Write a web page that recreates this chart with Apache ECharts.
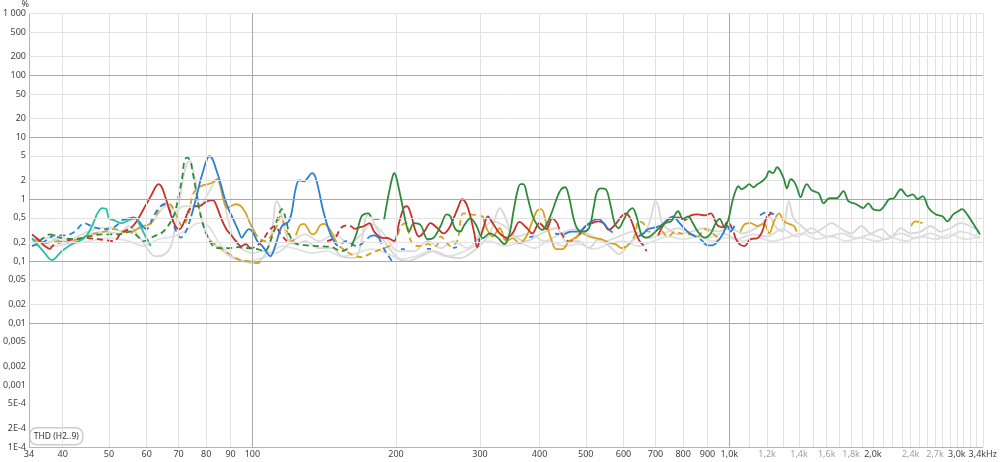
<!DOCTYPE html>
<html><head><meta charset="utf-8">
<script src="https://cdn.jsdelivr.net/npm/echarts@6/dist/echarts.min.js"></script>
<style>html,body{margin:0;padding:0;background:#fff}#c{width:1000px;height:462px}</style>
</head><body><div id="c"></div>
<script>
// ---- ticks / grid ----
const xTickValues = [34,40,50,60,70,80,90,100,200,300,400,500,600,700,800,900,1000,1200,1400,1600,1800,2000,2400,2700,3000,3400];
const xTickLabels = ['34','40','50','60','70','80','90','100','200','300','400','500','600','700','800','900','1,0k','1,2k','1,4k','1,6k','1,8k','2,0k','2,4k','2,7k','3,0k','3,4kHz'];
const xTickDim    = [0,0,0,0,0,0,0,0,0,0,0,0,0,0,0,0,0,1,1,1,1,0,1,1,0,0];
const xMinorGrid = [40,50,60,70,80,90,200,300,400,500,600,700,800,900,1100,1200,1300,1400,1500,1600,1700,1800,1900,2000,2100,2200,2300,2400,2500,2600,2700,2800,2900,3000,3100,3200,3300,3400];
const xMajorGrid = [100,1000];
const yTickValues = [1000,500,200,100,50,20,10,5,2,1,0.5,0.2,0.1,0.05,0.02,0.01,0.005,0.002,0.001,0.0005,0.0002,0.0001];
const yTickLabels = ['1 000','500','200','100','50','20','10','5','2','1','0,5','0,2','0,1','0,05','0,02','0,01','0,005','0,002','0,001','5E-4','2E-4','1E-4'];
const yMinorGrid = [1000,500,200,50,20,5,2,0.5,0.2,0.05,0.02,0.005,0.002,0.0005,0.0002];
const yMajorGrid = [100,10,1,0.1,0.01,0.001];

// ---- series data: [frequency Hz, THD %] ----
const tealSolid = [
 [[34.5,0.235],[36.4,0.145],[38,0.104],[39.8,0.145],[41.8,0.188],[44.4,0.235],[46.1,0.37],[47.3,0.59],[48.4,0.72],[49.4,0.69],[50,0.49],[51.2,0.46],[53.3,0.41],[55,0.46],[57,0.49],[57.8,0.41],[59.1,0.29],[61.2,0.175]]
];
const blueSolid = [
 [[53.3,0.46],[55,0.49],[56.4,0.51],[57.8,0.44],[59.1,0.35]],
 [[74.4,0.53],[76.2,1.04],[77.7,1.95],[78.8,2.83],[80,4.1],[81.1,4.94],[82.3,4.59],[83.9,3.05],[85.5,1.95],[87.2,1.12],[88.9,0.72],[91.1,0.48],[93.3,0.32],[95,0.24],[96.4,0.28],[98.3,0.33],[100,0.30],[102.4,0.21],[104.9,0.175],[107.4,0.135],[109,0.12],[111.6,0.175],[115.3,0.37],[119.2,0.44],[121.2,0.69],[122.9,1.35],[125.3,2.02],[128.3,1.95],[130.8,2.26],[133.3,2.63],[135.3,2.35],[137.9,1.35],[140,0.77],[142.7,0.44],[145.5,0.28],[148.3,0.21]],
 [[175.9,0.25],[180,0.26],[184.4,0.235]],
 [[450,0.27],[466,0.30],[484,0.30],[500,0.37],[515,0.44],[532,0.48],[545,0.41],[558,0.33],[569,0.29]],
 [[645,0.25],[660,0.28],[676,0.33],[699,0.35],[720,0.38],[744,0.48],[762,0.53],[781,0.44],[807,0.33],[831,0.27]],
 [[880,0.21],[901,0.18],[923,0.18],[945,0.21],[968,0.27],[991,0.37],[1006,0.30],[1025,0.37]]
];
const blueDashed = [
 [[34.5,0.175],[36.7,0.21],[38.5,0.26],[40.4,0.26],[42.4,0.30],[44.4,0.41],[46.6,0.35],[48.9,0.33],[51.2,0.35],[53.3,0.46]],
 [[59.1,0.35],[60,0.33],[62,0.53],[64.1,0.77],[65.6,0.83],[67.3,0.64],[68.9,0.33],[70.7,0.24],[72.5,0.30],[74.4,0.53]],
 [[148.3,0.21],[151,0.18],[157.4,0.21],[165.3,0.175],[175.9,0.25]],
 [[184.4,0.235],[188.9,0.156],[193.6,0.116],[197.3,0.093]],
 [[831,0.27],[859,0.24],[880,0.21]],
 [[1160,0.55],[1200,0.62],[1240,0.57]]
];
const blueSparse = [
 [[204.9,0.156],[260,0.162],[304,0.226],[363,0.226],[386,0.25],[419,0.28],[450,0.27]]
];
const redSolid = [
 [[34.5,0.27],[35.5,0.226],[36.7,0.175],[37.6,0.156]],
 [[55.6,0.34],[57.2,0.44],[59.1,0.69],[61.5,1.2],[62.6,1.56],[63.5,1.75],[64.4,1.62],[65.6,1.12],[67.3,0.59],[68.9,0.37],[70.3,0.33],[71.7,0.41],[73,0.59]],
 [[77.7,0.77],[79.2,0.86],[81.5,0.96],[82.7,0.96],[84.3,0.74],[86,0.49],[88.1,0.33],[90,0.27],[92.4,0.21],[94.6,0.175],[96.9,0.188],[98.3,0.168]],
 [[163.7,0.33],[167.7,0.35],[171.7,0.37],[175.9,0.41],[180,0.30],[186.2,0.24],[192.6,0.235],[198.2,0.21],[202.9,0.41],[207.8,0.74],[210.9,0.77],[215,0.57],[219.1,0.33],[223.3,0.25],[228.6,0.29],[236.4,0.41],[243.4,0.35],[251.7,0.28],[257.8,0.33],[263.8,0.48],[270,0.74],[275.3,1.0],[281.1,0.83],[286.4,0.53],[291.9,0.28],[296,0.168],[300,0.226],[305.7,0.37],[311.6,0.53],[319.1,0.41],[329.9,0.28],[341.1,0.24],[351,0.28],[363,0.43],[375.3,0.35],[386.3,0.28],[399.5,0.41],[413.2,0.33],[425.2,0.49],[435.6,0.41]],
 [[484,0.27],[500,0.37],[515,0.41],[532,0.44],[545,0.41],[558,0.32],[578,0.40],[594,0.53],[606,0.59],[620,0.49],[635,0.30],[648,0.21]],
 [[709,0.26],[727,0.38],[744,0.46],[762,0.49],[781,0.51],[807,0.46],[831,0.55],[859,0.57],[888,0.55],[914,0.59],[945,0.38],[977,0.35]],
 [[1030,0.235],[1050,0.188],[1075,0.175],[1107,0.226],[1145,0.235],[1172,0.30],[1189,0.44],[1200,0.53]]
];
const redDashed = [
 [[37.6,0.156],[38.5,0.188],[40.4,0.21],[42.4,0.226],[45,0.235],[47.7,0.226],[51.2,0.21],[53,0.28],[55.6,0.34]],
 [[73,0.59],[75,0.77],[77.7,0.77]],
 [[98.3,0.168],[99.3,0.162],[102.4,0.18],[105.9,0.24],[109,0.33],[111.6,0.37],[114.3,0.28],[118.1,0.21]],
 [[143.4,0.21],[149,0.24],[153.7,0.35],[158.9,0.38],[163.7,0.33]],
 [[435.6,0.41],[446,0.27],[461,0.21],[472,0.226],[484,0.27]],
 [[648,0.21],[660,0.18],[670,0.145]],
 [[977,0.35],[991,0.44],[1015,0.33],[1030,0.235]],
 [[1200,0.53],[1217,0.57],[1230,0.60]]
];
const goldSolid = [
 [[55.6,0.28],[57.2,0.33],[59.1,0.37],[61.2,0.40]],
 [[77,1.56],[78.8,1.68],[80.8,1.75],[82.7,1.88],[84.3,2.1],[85.5,1.75],[86.8,1.04],[88.5,0.72],[90,0.77],[92.4,0.83],[94.6,0.77],[96.9,0.59],[98.8,0.41],[101,0.30]],
 [[124.1,0.30],[125.9,0.38],[128.3,0.40],[130.8,0.33],[133.3,0.27],[135.9,0.29],[138.6,0.38],[141.3,0.40],[144.8,0.34],[148.3,0.24]],
 [[304.3,0.53],[310.2,0.33],[319.1,0.25],[329.9,0.34],[341.1,0.21],[351,0.235],[363,0.195],[375.3,0.25],[386.3,0.44],[395.7,0.66],[403.4,0.69],[413.2,0.41],[423.2,0.226],[433.5,0.156],[446.1,0.156],[461.3,0.21],[477,0.24],[491,0.28],[507.6,0.25],[525,0.235],[540,0.226],[558.5,0.20],[577.6,0.188],[594.4,0.162],[609,0.175]],
 [[1055,0.30],[1080,0.40],[1107,0.41],[1145,0.37],[1183,0.40],[1212,0.28],[1241,0.44],[1271,0.59],[1302,0.44],[1333,0.40],[1365,0.37],[1385,0.30]],
 [[2401,0.37],[2459,0.44],[2543,0.41]]
];
const goldDashed = [
 [[35,0.226],[36.7,0.195],[39.1,0.21],[41,0.20],[42.8,0.226],[45.9,0.27],[48.9,0.30],[51.2,0.33],[53.8,0.30],[55.6,0.28]],
 [[61.2,0.40],[62.6,0.53],[64.1,0.72],[65.6,0.86],[67.3,0.83],[68.9,0.59],[71.3,0.37],[73.4,0.55],[75,1.2],[77,1.56]],
 [[81.5,0.21],[84.7,0.175],[88.9,0.135],[93.3,0.108],[97.8,0.10],[101.4,0.093],[104,0.096]],
 [[101,0.30],[102.4,0.25],[106.4,0.21],[110,0.27],[112.7,0.38],[114.3,0.53],[117,0.37],[121.2,0.21],[124.1,0.30]],
 [[148.3,0.24],[152.2,0.175],[157.4,0.145],[162.5,0.125],[169.3,0.116],[177.5,0.135],[186.2,0.156],[193.6,0.175],[200,0.226],[204.9,0.37],[209.9,0.41],[215,0.21],[223.3,0.175],[233,0.188],[242.3,0.175],[248.1,0.25],[254,0.21],[260,0.175],[268.7,0.21],[276.6,0.59],[286.4,0.57],[295,0.55],[304.3,0.53]],
 [[609,0.175],[623.5,0.21],[635.5,0.28],[644.7,0.44],[660,0.41],[676,0.30],[699,0.30],[709.5,0.34],[744,0.25],[769.6,0.30],[792,0.28],[831,0.27],[859,0.25],[888,0.33],[923,0.28],[954,0.226]]
];
const greenSolid = [
 [[161.4,0.175],[165.3,0.28],[169.3,0.53],[173.3,0.59]],
 [[188.9,0.48],[193.6,1.35],[196.3,2.18],[198.2,2.63],[200,2.35],[202.9,1.45],[206,0.83],[209.9,0.41],[212.9,0.30],[218.1,0.41],[225.4,0.38],[233,0.226],[240,0.24],[248.1,0.37],[255.4,0.57],[260,0.53],[266.3,0.33],[272.7,0.30],[278,0.38],[286.4,0.49],[294.6,0.38],[304.3,0.235],[314.6,0.28],[326.7,0.24],[337.8,0.188],[346,0.28],[352.7,0.64],[359.5,1.35],[364.8,1.75],[370,1.75],[377.1,1.12],[386.3,0.55],[395.7,0.38],[405.3,0.32],[415.2,0.41],[425.2,0.64],[435.6,1.08],[444,1.45],[452.6,1.56],[461.3,1.08],[470.2,0.53],[479.3,0.34],[491,0.30],[507.6,0.34],[520,0.77],[527.5,1.30],[537.5,1.50],[550.5,1.45],[561.2,0.93],[574.8,0.41],[586,0.34],[600,0.46],[614.6,0.64],[626.5,0.72],[638.6,0.53],[654,0.27],[669.8,0.24],[686.1,0.26],[709.5,0.33],[733.7,0.41],[755,0.44],[780.7,0.64],[799.6,0.48],[819,0.53],[838.8,0.41],[859,0.30],[888,0.24],[914,0.28],[936,0.41],[954,0.48],[977,0.35],[996,0.48],[1015,0.93],[1030,1.35],[1045,1.62],[1060,1.45],[1080,1.56],[1101,1.75],[1123,1.56],[1145,1.75],[1172,1.95],[1194,2.26],[1212,2.83],[1235,2.63],[1259,3.28],[1277,2.93],[1302,2.10],[1320,1.50],[1345,2.10],[1365,1.95],[1385,1.56],[1411,1.08],[1432,1.45],[1453,1.75],[1488,1.40],[1539,1.25],[1576,0.86],[1622,1.04],[1678,1.04],[1735,1.35],[1777,0.93],[1847,0.83],[1909,0.72],[1955,0.86],[2003,0.69],[2061,0.66],[2111,0.77],[2162,1.0],[2214,1.04],[2289,1.45],[2367,1.12],[2424,1.20],[2483,1.0],[2543,1.12],[2617,0.72],[2706,0.57],[2798,0.53],[2865,0.44],[2948,0.57],[3020,0.64],[3078,0.69],[3152,0.57],[3243,0.41],[3353,0.27]]
];
const greenDashed = [
 [[35.8,0.21],[37.6,0.27],[39.5,0.24],[42.4,0.226],[44.4,0.24],[48,0.27],[52,0.27],[55.6,0.30],[57.8,0.24],[59.1,0.21],[62,0.25],[65,0.30],[68.3,0.53],[70,1.12],[71.3,2.35],[72,4.1],[73,4.76],[74.1,4.1],[75,2.63],[76.2,1.35],[77.7,0.59],[80,0.28],[82.7,0.175],[85.5,0.162],[88.9,0.162],[93.3,0.168],[97.8,0.162],[102.4,0.156],[105.9,0.145],[110,0.25],[113.2,0.53],[115.3,0.69],[117.5,0.48],[120,0.25],[124.1,0.188],[130,0.18],[137.9,0.175],[146.9,0.168],[153.7,0.145],[161.4,0.175]],
 [[173.3,0.59],[175,0.59],[178.8,0.48],[183.5,0.48],[188.9,0.48]]
];
const grayA = [[34.5,0.235],[36.7,0.195],[39.5,0.24],[42.4,0.21],[45.5,0.27],[48.9,0.30],[52.5,0.28],[55,0.37],[57.8,0.25],[60.7,0.145],[62.6,0.12],[65,0.125],[67.3,0.168],[68.9,0.37],[70.3,0.93],[71.7,2.35],[73,3.81],[74.1,4.1],[75,3.05],[76.2,1.62],[77.7,0.59],[80,0.28],[82.7,0.195],[86.8,0.145],[91.1,0.112],[95.5,0.10],[100,0.093],[104.9,0.112],[108.5,0.188],[110.6,0.44],[112.2,0.93],[113.7,0.83],[115.9,0.44],[118.6,0.226],[122.3,0.188],[128.9,0.21],[137.9,0.162],[146.9,0.162],[153.7,0.12],[163.7,0.112],[169.3,0.21],[172.5,0.48],[175.9,0.59],[180,0.40],[188.9,0.21],[202,0.112],[211.9,0.10],[225.4,0.12],[240,0.145],[256.6,0.12],[272.7,0.112],[290.5,0.145],[310.2,0.235],[319.1,0.37],[325.2,0.59],[329.9,0.72],[336.2,0.59],[342.7,0.41],[351,0.27],[375.3,0.21],[399.5,0.27],[433.5,0.34],[454.8,0.21],[484,0.21],[507.6,0.162],[532.4,0.226],[566.6,0.162],[586,0.13],[623.5,0.21],[666.6,0.30],[686,0.53],[699.4,0.93],[709.5,0.77],[723,0.41],[744,0.33],[781,0.27],[831,0.30],[888,0.34],[945,0.30],[1006,0.34],[1065,0.28],[1128,0.33],[1172,0.41],[1212,0.53],[1247,0.37],[1289,0.30],[1333,0.93],[1365,0.48],[1418,0.37],[1488,0.28],[1561,0.33],[1638,0.41],[1719,0.33],[1803,0.28],[1891,0.37],[1984,0.28],[2081,0.33],[2183,0.25],[2289,0.34],[2401,0.28],[2518,0.30],[2642,0.37],[2771,0.30],[2906,0.34],[3049,0.41],[3197,0.37],[3353,0.30]];
const grayB = [[34.5,0.21],[37.6,0.24],[40.4,0.21],[43.4,0.26],[46.6,0.33],[50,0.35],[53.8,0.30],[57.8,0.33],[61.2,0.40],[64.1,0.64],[66.6,0.83],[68.9,0.64],[71.7,0.77],[75,0.77],[78.1,0.83],[80.8,1.25],[82.7,1.75],[84.3,2.1],[86,1.35],[87.6,0.77],[89.3,0.41],[91.8,0.21],[95.5,0.156],[100,0.135],[104.9,0.145],[111.6,0.135],[121.2,0.21],[128.9,0.27],[137.9,0.21],[149,0.27],[158.9,0.195],[169.3,0.27],[177.5,0.40],[188.9,0.27],[202,0.145],[218.1,0.145],[233,0.21],[248.1,0.162],[263.8,0.21],[282.3,0.162],[300,0.27],[319.1,0.44],[337.8,0.37],[357.8,0.25],[380.8,0.28],[409.2,0.21],[439.8,0.27],[472.5,0.33],[507.6,0.27],[545.3,0.21],[586,0.25],[629.5,0.30],[676,0.235],[726.7,0.28],[781,0.34],[839,0.27],[901,0.235],[968,0.28],[1040,0.226],[1118,0.27],[1200,0.25],[1289,0.33],[1385,0.25],[1488,0.34],[1599,0.25],[1719,0.28],[1847,0.235],[1984,0.27],[2131,0.226],[2289,0.28],[2459,0.235],[2642,0.28],[2838,0.235],[3049,0.30],[3353,0.235]];
const grayC = [[34.5,0.188],[37.6,0.175],[41.4,0.188],[45.5,0.21],[50,0.235],[55,0.21],[59.1,0.175],[63.5,0.226],[68.3,0.25],[73.4,0.33],[77,0.41],[80.8,0.37],[84.7,0.21],[88.9,0.135],[93.3,0.108],[97.8,0.10],[102.4,0.108],[107.4,0.12],[115.3,0.175],[124.1,0.156],[133.3,0.135],[143.4,0.145],[153.7,0.12],[165.3,0.135],[177.5,0.156],[190.8,0.135],[204.9,0.108],[220,0.12],[236.4,0.145],[254,0.12],[272.7,0.135],[293.3,0.175],[314.6,0.21],[337.8,0.175],[363,0.195],[390,0.162],[419,0.21],[450.4,0.175],[484,0.188],[520,0.156],[558.5,0.188],[600,0.21],[644.7,0.175],[692.7,0.21],[744,0.25],[799.6,0.226],[859,0.25],[923,0.21],[991,0.24],[1065,0.21],[1145,0.24],[1229,0.21],[1320,0.24],[1418,0.28],[1524,0.226],[1638,0.25],[1760,0.21],[1891,0.24],[2032,0.21],[2183,0.24],[2345,0.21],[2518,0.25],[2706,0.226],[2906,0.27],[3122,0.226],[3353,0.25]];

// ---- chart ----
const FONT = 'Noto Sans, Open Sans, sans-serif';
const COLORS = {teal:'#27c1a0', blue:'#2a7fd6', red:'#c8302a', gold:'#d6a31c', green:'#2f8b3c'};
function findIdx(arr, v){ return arr.findIndex(t => Math.abs(t - v) <= Math.abs(t) * 1e-6); }
const series = [];
function addSegs(segs, color, dash, z, width){
  segs.forEach(d => series.push({type:'line', data:d, symbol:'none', showSymbol:false, smooth:0.35, silent:true, animation:false,
    lineStyle:{color:color, width:width||1.8, type: dash || 'solid'}, z:z}));
}
addSegs([grayC], '#e2e2e2', null, 2, 1.8);
addSegs([grayB], '#dcdcdc', null, 2, 1.8);
addSegs([grayA], '#d7d7d7', null, 2, 1.8);
addSegs(goldDashed, COLORS.gold, [6,4], 3);
addSegs(redDashed, COLORS.red, [6,4], 3);
addSegs(greenDashed, COLORS.green, [6,4], 3);
addSegs(blueDashed, COLORS.blue, [6,4], 3);
addSegs(blueSparse, COLORS.blue, [4,22], 3);
addSegs(goldSolid, COLORS.gold, null, 4);
addSegs(redSolid, COLORS.red, null, 4);
addSegs(blueSolid, COLORS.blue, null, 4);
addSegs(tealSolid, COLORS.teal, null, 4);
addSegs(greenSolid, COLORS.green, null, 5);
// grid lines
series.push({type:'line', data:[], silent:true, animation:false, z:1,
  markLine:{symbol:'none', silent:true, animation:false, label:{show:false},
    lineStyle:{color:'#e2e2e2', width:1, type:'solid'},
    data:[...xMinorGrid.map(v=>({xAxis:v})), ...yMinorGrid.map(v=>({yAxis:v}))]}});
series.push({type:'line', data:[], silent:true, animation:false, z:1,
  markLine:{symbol:'none', silent:true, animation:false, label:{show:false},
    lineStyle:{color:'#a9a9a9', width:1, type:'solid'},
    data:[...xMajorGrid.map(v=>({xAxis:v})), ...yMajorGrid.map(v=>({yAxis:v}))]}});

const chart = echarts.init(document.getElementById('c'), null, {renderer:'canvas'});
chart.setOption({
  animation:false,
  backgroundColor:'#fff',
  grid:{left:27, right:13, top:12, bottom:15, containLabel:false},
  xAxis:{type:'log', logBase:10, min:34, max:3400,
    axisLine:{show:true, onZero:false, lineStyle:{color:'#b5b5b5', width:1}},
    axisTick:{show:false},
    splitLine:{show:false}, minorSplitLine:{show:false},
    axisLabel:{customValues:xTickValues, margin:3, fontSize:9, color:'#444', fontFamily:FONT, hideOverlap:false,
      showMinLabel:true, showMaxLabel:true,
      formatter:v=>{const i=findIdx(xTickValues,v); if(i<0) return ''; return xTickDim[i]?'{d|'+xTickLabels[i]+'}':xTickLabels[i];},
      rich:{d:{color:'#a0a0a0', fontSize:9, fontFamily:FONT}}}},
  yAxis:{type:'log', logBase:10, min:0.0001, max:1000,
    name:'%', nameLocation:'end', nameGap:1, nameTextStyle:{fontSize:9, color:'#444', fontFamily:FONT, align:'right', padding:[0,0,0,0]},
    axisLine:{show:true, lineStyle:{color:'#b5b5b5', width:1}},
    axisTick:{show:false},
    splitLine:{show:false}, minorSplitLine:{show:false},
    axisLabel:{customValues:yTickValues, margin:3, fontSize:9, color:'#444', fontFamily:FONT, hideOverlap:false,
      showMinLabel:true, showMaxLabel:true,
      formatter:v=>{const i=findIdx(yTickValues,v); return i<0?'':yTickLabels[i];}}},
  graphic:[{type:'group', left:29, top:427, silent:true, children:[
    {type:'rect', shape:{x:0, y:0, width:53, height:17, r:7}, style:{fill:'#fff', stroke:'#cdcdcd', lineWidth:1.5}},
    {type:'text', x:26.5, y:8.5, style:{text:'THD (H2..9)', fill:'#333', font:'8.5px '+FONT, align:'center', verticalAlign:'middle'}}
  ]}],
  series:series
});
</script></body></html>
